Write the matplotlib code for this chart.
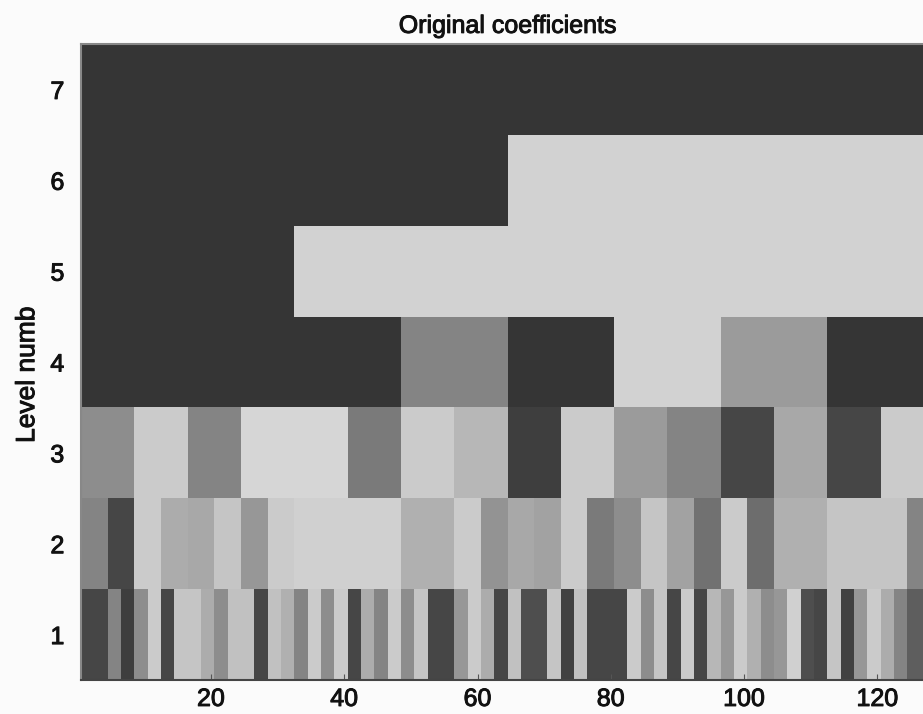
import numpy as np
import matplotlib
matplotlib.use("Agg")
import matplotlib.pyplot as plt
import matplotlib.patheffects as pe
from matplotlib.colors import LinearSegmentedColormap

plt.rcParams['font.family'] = ['Liberation Sans', 'DejaVu Sans']

# gray intensity of each coefficient (0 = darkest, 1 = lightest), per level
level1 = [0.15, 0.15, 0.50, 0.10, 0.55, 0.85, 0.15, 0.82,
          0.82, 0.70, 0.55, 0.80, 0.80, 0.15, 0.80, 0.72,
          0.50, 0.85, 0.55, 0.85, 0.15, 0.70, 0.50, 0.85,
          0.55, 0.82, 0.15, 0.15, 0.60, 0.85, 0.70, 0.15,
          0.80, 0.20, 0.20, 0.82, 0.12, 0.80, 0.15, 0.15,
          0.15, 0.85, 0.55, 0.82, 0.15, 0.85, 0.15, 0.75,
          0.60, 0.85, 0.72, 0.55, 0.60, 0.87, 0.20, 0.15,
          0.82, 0.12, 0.60, 0.85, 0.70, 0.50, 0.30, 0.30]
level2 = [0.50, 0.15, 0.85, 0.70, 0.68, 0.82, 0.60, 0.85,
          0.87, 0.87, 0.87, 0.87, 0.72, 0.72, 0.85, 0.58,
          0.68, 0.65, 0.85, 0.45, 0.55, 0.82, 0.65, 0.40,
          0.85, 0.38, 0.72, 0.72, 0.82, 0.82, 0.82, 0.50]
level3 = [0.55, 0.85, 0.50, 0.90, 0.90, 0.45, 0.85, 0.75,
          0.10, 0.85, 0.62, 0.50, 0.15, 0.68, 0.15, 0.85]
level4 = [0.03, 0.03, 0.03, 0.50, 0.03, 0.88, 0.62, 0.03]
level5 = [0.03, 0.88, 0.88, 0.88]
level6 = [0.03, 0.88]
level7 = [0.03]

levels = [level1, level2, level3, level4, level5, level6, level7]
n = 128

# expand each level to the full 128-sample grid
grid = np.array([np.repeat(lv, n // len(lv)) for lv in levels])

cmap = LinearSegmentedColormap.from_list("scan_gray", ["#333333", "#ececec"], gamma=1.2)

fig = plt.figure(figsize=(9.23, 7.14), dpi=100)
fig.patch.set_facecolor('#fbfbfb')
ax = fig.add_axes([81 / 923, 34 / 714, 853 / 923, 636 / 714])

x_edges = np.arange(n + 1) + 0.5
y_edges = np.arange(len(levels) + 1) + 0.5
ax.pcolormesh(x_edges, y_edges, grid, cmap=cmap, vmin=0, vmax=1, shading='flat')

ax.set_xlim(0.5, n + 0.5)
ax.set_ylim(0.5, len(levels) + 0.5)
ax.set_xticks([20, 40, 60, 80, 100, 120])
ax.set_yticks(range(1, 8))
ax.tick_params(axis='x', direction='in', length=4, pad=5, labelsize=18, color='#555555')
ax.tick_params(axis='y', direction='in', length=0, pad=12, labelsize=18)
for s in ax.spines.values():
    s.set_color('#888888')
    s.set_linewidth(1.5)
ax.spines['bottom'].set_color('#444444')

ax.set_title("Original coefficients", fontsize=18, pad=8)
ax.set_ylabel("Level numb", fontsize=19)
ax.yaxis.set_label_coords(-0.049, 0.48)

# slightly heavier strokes, like the scanned print
heavy = [pe.withStroke(linewidth=0.7, foreground='#111111')]
for t in [ax.title, ax.yaxis.label] + ax.get_xticklabels() + ax.get_yticklabels():
    t.set_color('#111111')
    t.set_path_effects(heavy)

fig.savefig("out.png", dpi=100, facecolor=fig.get_facecolor())
